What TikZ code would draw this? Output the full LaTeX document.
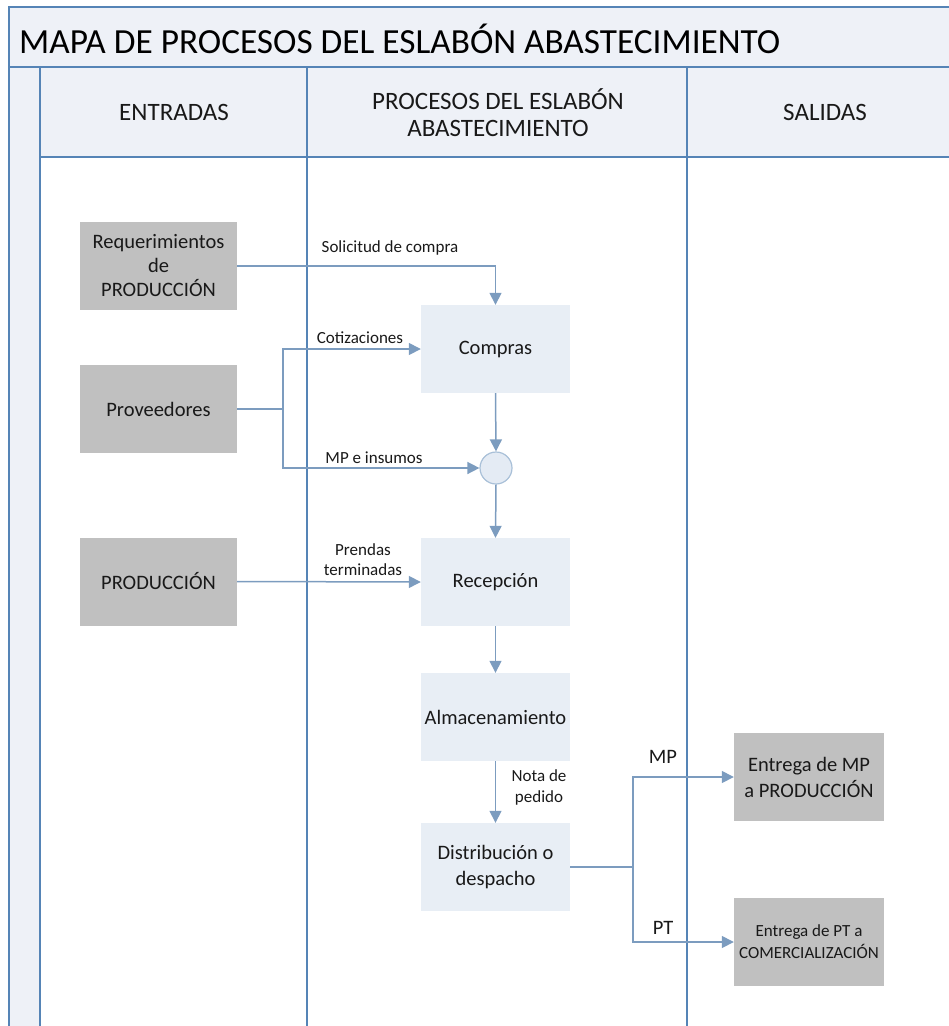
\documentclass[tikz,border=0pt]{standalone}
\usepackage{fontspec}
\setmainfont{Carlito}
\usetikzlibrary{arrows.meta}
\definecolor{laneblue}{HTML}{5584B6}
\definecolor{connblue}{HTML}{7C9CBF}
\definecolor{headfill}{HTML}{EEF1F7}
\definecolor{procfill}{HTML}{E8EEF5}
\definecolor{inbox}{HTML}{C0C0C0}
\definecolor{circfill}{HTML}{E4EBF4}
\definecolor{circline}{HTML}{A9C0D8}
\newcommand{\fs}[1]{\fontsize{#1}{#1}\selectfont}
\tikzset{
  lane/.style={draw=laneblue, line width=2pt},
  graybox/.style={fill=inbox, minimum width=157pt, minimum height=88pt, inner sep=2pt, align=center, font=\fs{20.5}, text=black!90},
  procbox/.style={fill=procfill, minimum width=149pt, minimum height=88pt, inner sep=2pt, align=center, font=\fs{20.5}, text=black!90},
  outbox/.style={fill=inbox, minimum width=150pt, minimum height=88pt, inner sep=2pt, align=center, text=black!90},
  conn/.style={draw=connblue, line width=1.5pt},
  arr/.style={conn, -{Triangle[length=12pt,width=12pt]}},
  lbl/.style={font=\fs{17}, text=black!90, align=center, inner sep=0pt},
  headtxt/.style={font=\fs{25}, text=black!90, align=center, inner sep=0pt}
}
\begin{document}
\begin{tikzpicture}[x=1pt, y=-1pt]
\useasboundingbox (0,0) rectangle (949,1026);
% swimlane frame
\fill[headfill] (9,7) rectangle (949,67);
\fill[headfill] (9,67) rectangle (40,1026);
\fill[headfill] (40,67) rectangle (949,157);
\draw[lane] (949,7) -- (9,7) -- (9,1026);
\draw[lane] (9,67) -- (949,67);
\draw[lane] (40,157) -- (949,157);
\draw[lane] (40,67) -- (40,1026);
\draw[lane] (307,67) -- (307,1026);
\draw[lane] (687,67) -- (687,1026);
% titles
\node[anchor=west, font=\fs{35.3}, inner sep=0pt, text=black] (title) at (19,39) {MAPA DE PROCESOS DEL ESLABÓN ABASTECIMIENTO};
\node[headtxt] (hin) at (174,112) {ENTRADAS};
\node[headtxt, font={\fontsize{25}{27}\selectfont}] (hproc) at (498,113) {PROCESOS DEL ESLABÓN\\ABASTECIMIENTO};
\node[headtxt] (hout) at (825,112) {SALIDAS};
% inputs
\node[graybox, font={\fontsize{20.5}{24}\selectfont}] (req) at (158.5,266) {Requerimientos\\de\\PRODUCCIÓN};
\node[graybox] (prov) at (158.5,409) {Proveedores};
\node[graybox] (prod) at (158.5,581.5) {PRODUCCIÓN};
% processes
\node[procbox] (comp) at (495.5,349) {Compras};
\node[circle, fill=circfill, draw=circline, line width=1.2pt, minimum size=32pt, inner sep=0pt] (join) at (496,468) {};
\node[procbox] (recp) at (495.5,582) {Recepción};
\node[procbox] (alm) at (495.5,717) {Almacenamiento};
\node[procbox, font={\fontsize{20.5}{26}\selectfont}] (dist) at (495.5,867) {Distribución o\\despacho};
% outputs
\node[outbox, font={\fontsize{20.5}{26}\selectfont}] (emp) at (809,777) {Entrega de MP\\a PRODUCCIÓN};
\node[outbox, font={\fontsize{17}{22}\selectfont}] (ept) at (809,942) {Entrega de PT a\\COMERCIALIZACIÓN};
% junction points
\coordinate (pj) at (283,409);
\coordinate (dj) at (633,867);
% connectors
\draw[arr] (req.east) -- (req.east -| comp.north) -- (comp.north);
\draw[conn] (prov.east) -- (pj);
\draw[arr] (pj) |- (comp.west);
\draw[arr] (pj) |- (join.west);
\draw[arr] (comp.south) -- (join.north);
\draw[arr] (join.south) -- (recp.north);
\draw[arr] (prod.east) -- (recp.west);
\draw[arr] (recp.south) -- (alm.north);
\draw[arr] (alm.south) -- (dist.north);
\draw[conn] (dist.east) -- (dj);
\draw[arr] (dj) |- (emp.west);
\draw[arr] (dj) |- (ept.west);
% connector labels
\node[lbl] (lsol) at (390,248) {Solicitud de compra};
\node[lbl] (lcot) at (360,338) {Cotizaciones};
\node[lbl] (lmp) at (374,458) {MP e insumos};
\node[lbl, font={\fontsize{17}{20}\selectfont}] (lpre) at (363,560) {Prendas\\terminadas};
\node[lbl, font={\fontsize{17}{21}\selectfont}] (lnota) at (539,787) {Nota de\\pedido};
\node[lbl, font=\fs{20.5}] (lomp) at (663,757) {MP};
\node[lbl, font=\fs{20.5}] (lopt) at (663,928) {PT};
\end{tikzpicture}
\end{document}
